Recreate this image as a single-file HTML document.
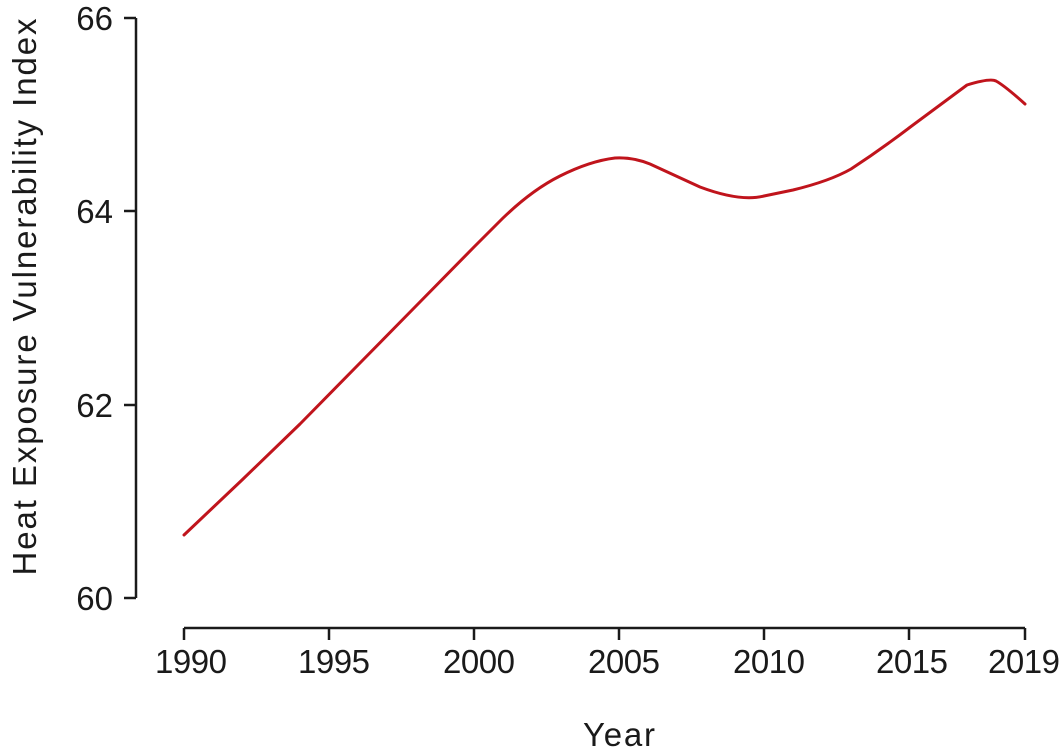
<!DOCTYPE html>
<html><head><meta charset="utf-8"><style>
html,body{margin:0;padding:0;background:#fff;}
svg{display:block;}
text{font-family:"Liberation Sans",sans-serif;fill:#1a1a1a;}
</style></head><body>
<svg width="1064" height="752" viewBox="0 0 1064 752" xmlns="http://www.w3.org/2000/svg">
<g stroke="#1a1a1a" stroke-width="2.5" fill="none">
<line x1="136" y1="18" x2="136" y2="598"/>
<line x1="124" y1="18" x2="136" y2="18"/>
<line x1="124" y1="211" x2="136" y2="211"/>
<line x1="124" y1="405" x2="136" y2="405"/>
<line x1="124" y1="598" x2="136" y2="598"/>
<line x1="184" y1="628" x2="1025" y2="628"/>
<line x1="184" y1="628" x2="184" y2="640"/>
<line x1="329" y1="628" x2="329" y2="640"/>
<line x1="474" y1="628" x2="474" y2="640"/>
<line x1="619" y1="628" x2="619" y2="640"/>
<line x1="764" y1="628" x2="764" y2="640"/>
<line x1="909" y1="628" x2="909" y2="640"/>
<line x1="1025" y1="628" x2="1025" y2="640"/>
</g>
<g font-size="33" text-anchor="end">
<text x="113" y="30">66</text>
<text x="113" y="223">64</text>
<text x="113" y="417">62</text>
<text x="113" y="610">60</text>
</g>
<g font-size="33" text-anchor="middle">
<text x="191" y="673" textLength="72">1990</text>
<text x="334" y="673" textLength="72">1995</text>
<text x="479" y="673" textLength="72">2000</text>
<text x="624" y="673" textLength="72">2005</text>
<text x="769" y="673" textLength="72">2010</text>
<text x="912" y="673" textLength="72">2015</text>
<text x="1024" y="673" textLength="72">2019</text>
<text x="619" y="746" textLength="72">Year</text>
<text transform="translate(36,297) rotate(-90)" textLength="557">Heat Exposure Vulnerability Index</text>
</g>
<path fill="none" stroke="#c0141c" stroke-width="3" stroke-linejoin="round" stroke-linecap="round"
d="M184,535 L242,480 L300,424 L358,365 L416,306 L474,247 L503,218 Q532,190 560,176 Q590,161 615,158 Q633,157 650,164 L700,187 Q740,202 764,196 L793,190 Q830,181 851,169 Q880,150 909,128 L967,85 Q990,78 996,81 Q1005,86 1025,104"/>
</svg>
</body></html>
